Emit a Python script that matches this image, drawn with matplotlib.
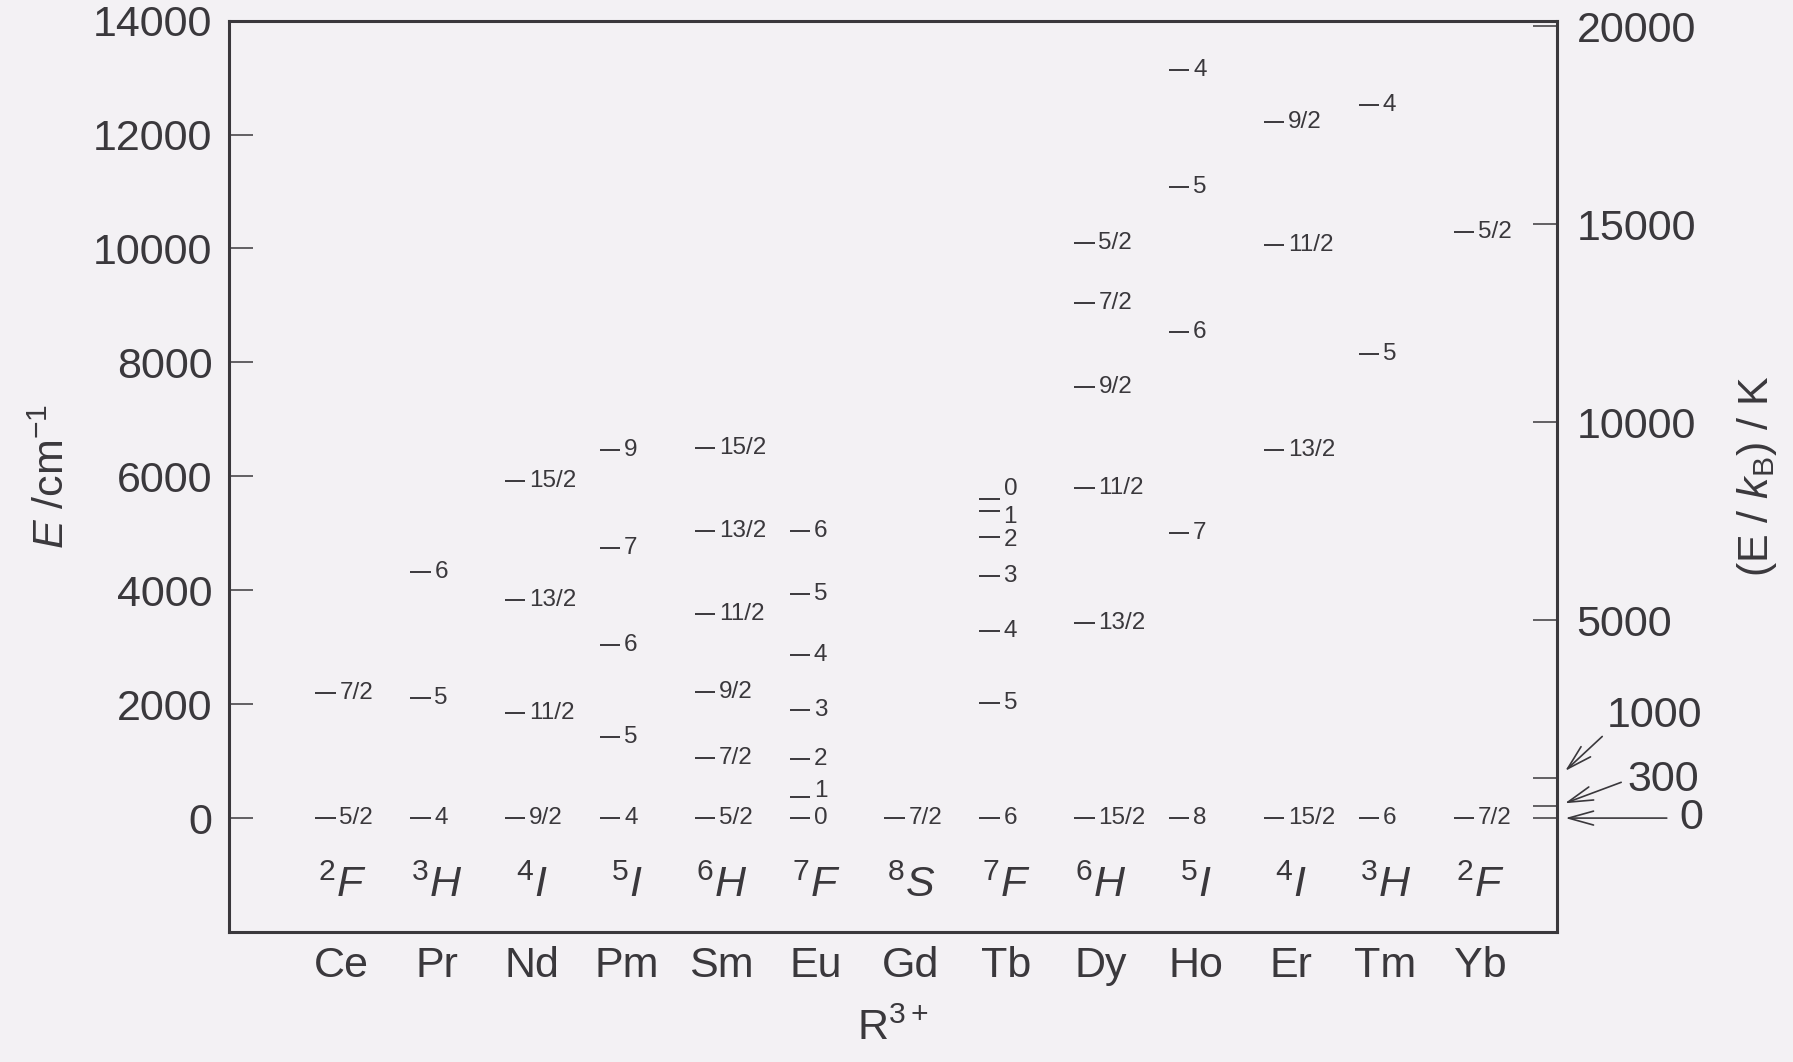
import matplotlib
matplotlib.use("Agg")
import matplotlib.pyplot as plt

plt.rcParams['font.family'] = ['Liberation Sans', 'DejaVu Sans']
plt.rcParams['mathtext.fontset'] = 'custom'
plt.rcParams['mathtext.rm'] = 'Liberation Sans'
plt.rcParams['mathtext.it'] = 'Liberation Sans:italic'
plt.rcParams['mathtext.bf'] = 'Liberation Sans:bold'

# ---------------- data ----------------
elements = ['Ce', 'Pr', 'Nd', 'Pm', 'Sm', 'Eu', 'Gd', 'Tb', 'Dy', 'Ho', 'Er', 'Tm', 'Yb']
term_mult = ['2', '3', '4', '5', '6', '7', '8', '7', '6', '5', '4', '3', '2']
term_L = ['F', 'H', 'I', 'I', 'H', 'F', 'S', 'F', 'H', 'I', 'I', 'H', 'F']

ce_J = ['5/2', '7/2'];                          ce_E = [0, 2200]
pr_J = ['4', '5', '6'];                         pr_E = [0, 2100, 4320]
nd_J = ['9/2', '11/2', '13/2', '15/2'];         nd_E = [0, 1840, 3830, 5910]
pm_J = ['4', '5', '6', '7', '9'];               pm_E = [0, 1430, 3030, 4740, 6460]
sm_J = ['5/2', '7/2', '9/2', '11/2', '13/2', '15/2']; sm_E = [0, 1050, 2220, 3590, 5045, 6500]
eu_J = ['0', '1', '2', '3', '4', '5', '6'];     eu_E = [0, 370, 1040, 1890, 2870, 3935, 5040]
gd_J = ['7/2'];                                 gd_E = [0]
tb_J = ['6', '5', '4', '3', '2', '1', '0'];     tb_E = [0, 2020, 3280, 4250, 4930, 5390, 5600]
dy_J = ['15/2', '13/2', '11/2', '9/2', '7/2', '5/2']; dy_E = [0, 3430, 5790, 7575, 9045, 10100]
ho_J = ['8', '7', '6', '5', '4'];               ho_E = [0, 5000, 8540, 11080, 13130]
er_J = ['15/2', '13/2', '11/2', '9/2'];         er_E = [0, 6460, 10060, 12220]
tm_J = ['6', '5', '4'];                         tm_E = [0, 8150, 12510]
yb_J = ['7/2', '5/2'];                          yb_E = [0, 10290]

level_J = [ce_J, pr_J, nd_J, pm_J, sm_J, eu_J, gd_J, tb_J, dy_J, ho_J, er_J, tm_J, yb_J]
level_E = [ce_E, pr_E, nd_E, pm_E, sm_E, eu_E, gd_E, tb_E, dy_E, ho_E, er_E, tm_E, yb_E]

left_ticks = [0, 2000, 4000, 6000, 8000, 10000, 12000, 14000]
right_ticks = [0, 300, 1000, 5000, 10000, 15000, 20000]
right_labels = ['', '', '', '5000', '10000', '15000', '20000']
arrow_ticks = ['1000', '300', '0']
cm_per_K = 0.695

# ---------------- style ----------------
ink = '#3a383c'
bg = '#f3f1f4'
label_nudge = {('Tb', '0'): 7, ('Tb', '1'): -4, ('Tb', '2'): -2, ('Eu', '1'): 4}

fig = plt.figure(figsize=(17.93, 10.62), dpi=100, facecolor=bg)
ax = fig.add_axes([0.1277, 0.1224, 0.7407, 0.8582])
ax.set_facecolor(bg)

ylo, yhi = -2000, 14000
ax.set_xlim(-1.19, 12.81)
ax.set_ylim(ylo, yhi)

for i, (Js, Es) in enumerate(zip(level_J, level_E)):
    ax.hlines(Es, i - 0.28, i - 0.065, color=ink, lw=1.4)
    for J, E in zip(Js, Es):
        dy = label_nudge.get((elements[i], J), 0)
        ax.annotate(J, xy=(i - 0.025, E), xytext=(0, dy), textcoords='offset points',
                    ha='left', va='center', fontsize=17.5, color=ink)
    ax.text(i, -1190, r'$^{%s}%s$' % (term_mult[i], term_L[i]),
            ha='center', va='center', fontsize=31, color=ink)

ax.set_xticks(range(len(elements)))
ax.set_xticklabels(elements)
ax.tick_params(axis='x', length=0, pad=10, labelsize=31, colors=ink)
ax.set_yticks(left_ticks)
ax.tick_params(axis='y', direction='in', length=17, width=1.1, pad=12,
               labelsize=31, colors=ink)
for s in ax.spines.values():
    s.set_linewidth(2.2)
    s.set_color(ink)

ax.set_xlabel(r'R$^{3+}$', fontsize=31, color=ink, labelpad=16)
ax.set_ylabel(r'$E$ /cm$^{-1}$', fontsize=31, color=ink, labelpad=14)

ax2 = ax.twinx()
ax2.set_ylim(ylo / cm_per_K, yhi / cm_per_K)
ax2.set_yticks(right_ticks)
ax2.set_yticklabels(right_labels)
ax2.tick_params(axis='y', direction='in', length=17, width=1.1, pad=14,
                labelsize=31, colors=ink)
for s in ax2.spines.values():
    s.set_visible(False)
ax2.set_ylabel(r'(E / $k_\mathrm{B}$) / K', fontsize=31, color=ink,
               rotation=90, labelpad=28)

arrow_offsets = {'1000': (36, 45), '300': (51, 19), '0': (88, 0)}
arrow_relpos = {'1000': (0.0, 0.1), '300': (0.0, 0.5), '0': (0.0, 0.5)}
arrow_shrinkA = {'1000': 2, '300': 3, '0': 7}
arrow_shrinkB = {'1000': 8, '300': 6, '0': 6}
for lab in arrow_ticks:
    ax2.annotate(lab, xy=(1, float(lab)), xycoords=('axes fraction', 'data'),
                 xytext=arrow_offsets[lab], textcoords='offset points',
                 ha='left', va='center', fontsize=31, color=ink,
                 arrowprops=dict(arrowstyle='->,head_length=0.9,head_width=0.25',
                                 mutation_scale=20, relpos=arrow_relpos[lab],
                                 color=ink, lw=1.2, shrinkA=arrow_shrinkA[lab],
                                 shrinkB=arrow_shrinkB[lab]))

fig.savefig('out.png', dpi=100, facecolor=bg)
